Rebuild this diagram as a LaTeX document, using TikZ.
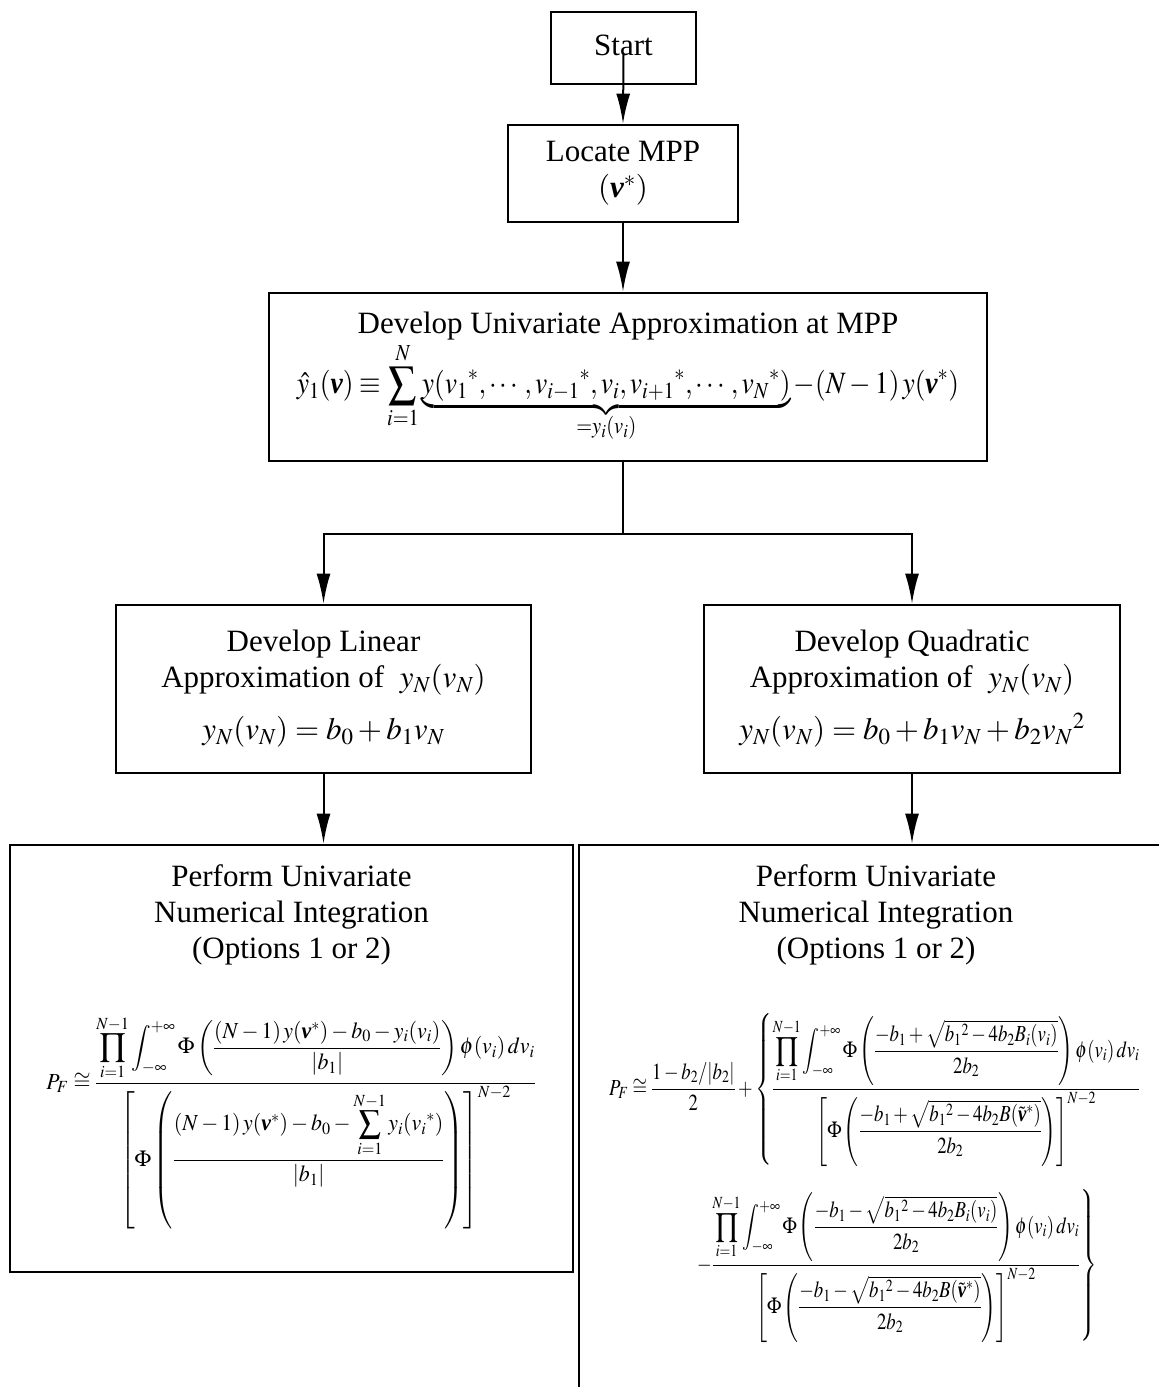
\documentclass[tikz,border=0pt]{standalone}
\usepackage{amsmath}
\usepackage{graphicx}
\usepackage{mathptmx}
\usepackage{fontspec}
\setmainfont{Liberation Serif}
\usetikzlibrary{arrows.meta}
\newcommand{\bvv}{\text{\normalfont\bfseries\itshape v}}
\begin{document}
\begin{tikzpicture}[x=1pt,y=-1pt,
  box/.style={draw, line width=2.8pt, inner sep=0pt, align=center, font=\fontsize{31}{36}\selectfont},
  conn/.style={line width=2pt},
  arr/.style={conn, -{Latex[length=30pt,width=14pt]}},
  ttl/.style={font=\fontsize{31}{36}\selectfont, align=center, inner sep=0pt},
  fm/.style={font=\fontsize{23}{28}\selectfont, inner sep=0pt}
]
\useasboundingbox (0,0) rectangle (1159,1387);
\clip (0,0) rectangle (1159,1387);
\fill[white] (0,0) rectangle (1159,1387);

\node[box, minimum width=145pt, minimum height=72pt] (start) at (623.5,48) {\raisebox{5pt}{Start}};
\node[box, minimum width=230pt, minimum height=97pt] (locate) at (623,173.5) {Locate MPP\\$(\bvv^{*})$};
\node[box, minimum width=718pt, minimum height=168pt] (dev) at (628,377)
  {Develop Univariate Approximation at MPP\\[2pt]
   \scalebox{0.89}[1]{$\displaystyle \hat{y}_1(\bvv)\equiv\sum_{i=1}^{N}\underbrace{y(v_1{}^{*},\cdots,v_{i-1}{}^{*},v_i,v_{i+1}{}^{*},\cdots,v_N{}^{*})}_{=y_i(v_i)}-(N-1)\,y(\bvv^{*})$}};
\node[box, minimum width=415pt, minimum height=168pt] (lin) at (323.5,689)
  {Develop Linear\\Approximation of \ $y_N(v_N)$\\[16pt]$y_N(v_N)=b_0+b_1v_N$};
\node[box, minimum width=416pt, minimum height=168pt] (quad) at (912,689)
  {Develop Quadratic\\Approximation of \ $y_N(v_N)$\\[16pt]$y_N(v_N)=b_0+b_1v_N+b_2v_N{}^{2}$};
\node[box, minimum width=563pt, minimum height=427pt] (intL) at (291.5,1058.5) {};
\node[box, minimum width=594pt, minimum height=575pt] (intR) at (876,1132.5) {};

\node[ttl, anchor=north] (intLt) at (291.5,864) {Perform Univariate\\Numerical Integration\\(Options 1 or 2)};
\node[ttl, anchor=north] (intRt) at (876,864) {Perform Univariate\\Numerical Integration\\(Options 1 or 2)};

\node[fm, anchor=base] (fL) at (291,1089)
 {\scalebox{0.95}[1]{$P_F \cong \dfrac{\displaystyle\prod_{i=1}^{N-1}\int_{-\infty}^{+\infty}\Phi\left(\dfrac{(N-1)\,y(\bvv^{*})-b_0-y_i(v_i)}{|b_1|}\right)\phi(v_i)\,dv_i}{\left[\Phi\left(\dfrac{(N-1)\,y(\bvv^{*})-b_0-\displaystyle\sum_{i=1}^{N-1}y_i(v_i{}^{*})}{|b_1|}\right)\right]^{N-2}}$}};

\node[fm, anchor=base west] (fR1) at (609,1095)
 {\scalebox{0.815}[1]{$P_F \cong \dfrac{1-b_2/|b_2|}{2}+\left\{\dfrac{\displaystyle\prod_{i=1}^{N-1}\int_{-\infty}^{+\infty}\Phi\left(\dfrac{-b_1+\sqrt{b_1{}^{2}-4b_2B_i(v_i)}}{2b_2}\right)\phi(v_i)\,dv_i}{\left[\Phi\left(\dfrac{-b_1+\sqrt{b_1{}^{2}-4b_2B(\tilde{\bvv}^{*})}}{2b_2}\right)\right]^{N-2}}\right.$}};
\node[fm, anchor=base west] (fR2) at (696,1271)
 {\scalebox{0.815}[1]{$\left.{-}\dfrac{\displaystyle\prod_{i=1}^{N-1}\int_{-\infty}^{+\infty}\Phi\left(\dfrac{-b_1-\sqrt{b_1{}^{2}-4b_2B_i(v_i)}}{2b_2}\right)\phi(v_i)\,dv_i}{\left[\Phi\left(\dfrac{-b_1-\sqrt{b_1{}^{2}-4b_2B(\tilde{\bvv}^{*})}}{2b_2}\right)\right]^{N-2}}\right\}$}};

\coordinate (split) at ([yshift=-72pt]dev.south -| locate.south);
\draw[arr] ([yshift=-6pt]start.center) -- (locate.north);
\draw[arr] (locate.south) -- (locate.south |- dev.north);
\draw[conn] (dev.south -| locate.south) -- (split);
\draw[arr] (split) -| (lin.north);
\draw[arr] (split) -| (quad.north);
\draw[arr] (lin.south) -- (lin.south |- intL.north);
\draw[arr] (quad.south) -- (quad.south |- intR.north);
\end{tikzpicture}
\end{document}
